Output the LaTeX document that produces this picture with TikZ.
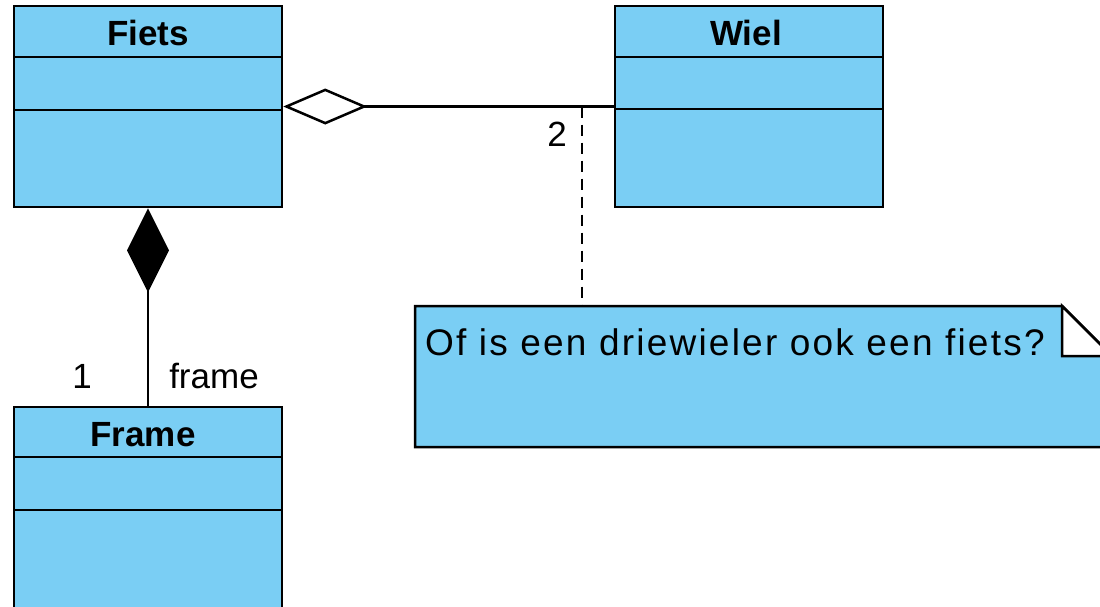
\documentclass[tikz,border=0pt]{standalone}
\usepackage{fontspec}
\setmainfont{Liberation Sans}
\newfontfamily\notefont[LetterSpace=6]{Liberation Sans}
\usetikzlibrary{arrows.meta}
\definecolor{classfill}{RGB}{122,206,244}
\tikzset{
  umlclass/.style={draw=black, fill=classfill, line width=2.5pt, rectangle,
    minimum width=268pt, minimum height=201pt, inner sep=0pt},
  classname/.style={anchor=base, font=\fontsize{35}{42}\selectfont\bfseries, inner sep=0pt},
  rolelabel/.style={anchor=base, font=\fontsize{35}{42}\selectfont, inner sep=0pt},
  divider/.style={line width=2.5pt},
  assoc/.style={line width=2.5pt},
  notelink/.style={line width=2.5pt, dash pattern=on 11pt off 7pt},
  aggregation/.style={assoc, {Diamond[open, length=84pt, width=36pt, line width=2.5pt]}-},
  composition/.style={assoc, {Diamond[fill=black, length=84pt, width=42pt, line width=2.5pt]}-},
}
\begin{document}
\begin{tikzpicture}[x=1pt, y=-1pt]
\useasboundingbox (0,0) rectangle (1100,606);
\clip (0,0) rectangle (1100,606);

% classes
\node[umlclass] (fiets) at (148,106.5) {};
\node[umlclass] (wiel)  at (749,106.5) {};
\node[umlclass] (frame) at (148,507.5) {};

% compartment dividers
\draw[divider] (14,57) -- (282,57) (14,110) -- (282,110);
\draw[divider] (615,57) -- (883,57) (615,109) -- (883,109);
\draw[divider] (14,457) -- (282,457) (14,510) -- (282,510);

% class names
\node[classname] (fietsname) at (148,45) {Fiets};
\node[classname] (wielname)  at (746,45) {Wiel};
\node[classname] (framename) at (143,446) {Frame};

% note with folded corner
\draw[line width=2.5pt, fill=classfill, line join=miter]
  (415,306) -- (1062,306) -- (1112,356) -- (1112,447) -- (415,447) -- cycle;
\draw[line width=2.5pt, fill=white, line join=miter]
  (1062,306) -- (1062,356) -- (1112,356) -- cycle;
\node[anchor=base west, inner sep=0pt, font=\fontsize{37}{44}\selectfont\notefont] (note) at (425,355)
  {Of is een driewieler ook een fiets?};
\coordinate (notetop) at (582,306);

% aggregation Fiets <>-- Wiel
\draw[aggregation] (fiets.east) -- (wiel.west);
\node[rolelabel] (mult2) at (557,146) {2};
\coordinate (linkfoot) at (582,106.5);
\draw[notelink] (linkfoot) -- (notetop);

% composition Fiets <#>-- Frame
\draw[composition] (fiets.south) -- (frame.north);
\node[rolelabel] (mult1) at (82,388) {1};
\node[rolelabel] (rolename) at (214,388) {frame};
\end{tikzpicture}
\end{document}
